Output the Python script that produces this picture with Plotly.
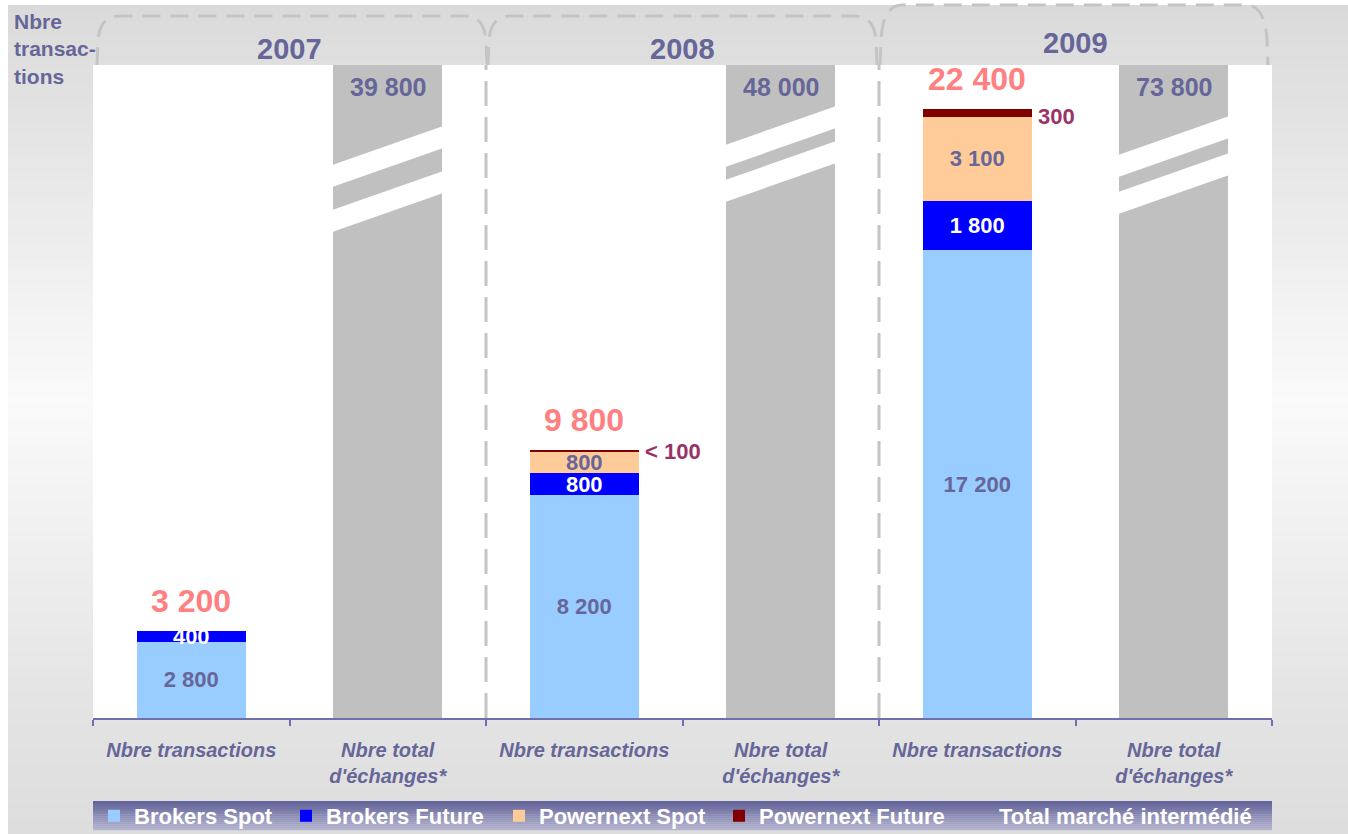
import plotly.graph_objects as go

# ---------------- data ----------------
categories = ["2007 trans", "2007 total", "2008 trans", "2008 total", "2009 trans", "2009 total"]
tick_labels = ["Nbre transactions", "Nbre total<br>d'échanges*"] * 3
years = ["2007", "2008", "2009"]
trans_cats = categories[0::2]
total_cats = categories[1::2]

brokers_spot = [2800, 8200, 17200]
brokers_future = [400, 800, 1800]
powernext_spot = [0, 800, 3100]
powernext_future = [0, 60, 300]
powernext_future_labels = ["", "< 100", "300"]
totals = [3200, 9800, 22400]
total_market = [39800, 48000, 73800]

series_names = ["Brokers Spot", "Brokers Future", "Powernext Spot", "Powernext Future",
                "Total marché intermédié"]

# ---------------- style ----------------
FONT = "Arial, Liberation Sans, sans-serif"
C_TXT = "#666699"
C_SPOT = "#99CCFF"
C_FUT = "#0000FF"
C_PSPOT = "#FFCC99"
C_PFUT = "#800000"
C_GRAY = "#C0C0C0"
C_TOTAL = "#FF8080"
C_SIDE = "#993366"
C_DASH = "#C4C4C4"
C_AXIS = "#6F6FAE"

W, H = 1348, 834
L, R, T, B = 93, 76, 65, 116
PW, PH = W - L - R, H - T - B
YMAX = 24000
BAR_W = 0.555


def px_x(px):
    return (px - L) / PW


def px_y(py):
    return (H - B - py) / PH


def P(px, py):
    return f"{px_x(px):.5f},{px_y(py):.5f}"


def fmt(v):
    return f"{v:,}".replace(",", " ") if v else ""


def lerp(c1, c2, t):
    return tuple(round(a + (b - a) * t) for a, b in zip(c1, c2))


fig = go.Figure()

bold = dict(family=FONT, size=22, weight="bold")

fig.add_trace(go.Bar(
    x=trans_cats, y=brokers_spot, name=series_names[0], marker=dict(color=C_SPOT, line=dict(width=0)),
    text=[fmt(v) for v in brokers_spot], textposition="inside", insidetextanchor="middle",
    constraintext="none", textfont=dict(bold, color=C_TXT), legend="legend"))
fig.add_trace(go.Bar(
    x=trans_cats, y=brokers_future, name=series_names[1], marker=dict(color=C_FUT, line=dict(width=0)),
    text=[fmt(v) for v in brokers_future], textposition="inside", insidetextanchor="middle",
    constraintext="none", textfont=dict(bold, color="white"), legend="legend2"))
fig.add_trace(go.Bar(
    x=trans_cats, y=powernext_spot, name=series_names[2], marker=dict(color=C_PSPOT, line=dict(width=0)),
    text=[fmt(v) for v in powernext_spot], textposition="inside", insidetextanchor="middle",
    constraintext="none", textfont=dict(bold, color=C_TXT), legend="legend3"))
fig.add_trace(go.Bar(
    x=trans_cats, y=powernext_future, name=series_names[3], marker=dict(color=C_PFUT, line=dict(width=0)),
    textposition="none", legend="legend4"))
fig.add_trace(go.Bar(
    x=total_cats, y=total_market, name=series_names[4], marker=dict(color=C_GRAY, line=dict(width=0)),
    textposition="none", showlegend=False, legendgroup="total"))
# legend entry for the total market (no visible swatch, as in the original)
fig.add_trace(go.Bar(
    x=[total_cats[0]], y=[None], name=series_names[4],
    marker=dict(color="rgba(0,0,0,0)", line=dict(width=0, color="rgba(0,0,0,0)")),
    legend="legend5", legendgroup="total", hoverinfo="skip"))

# ---------------- shapes ----------------
shapes = []
# background gradient
stops = [(5, (218, 218, 218)), (400, (250, 250, 250)), (700, (228, 228, 228)), (834, (221, 221, 221))]
y = 5
step = 8
while y < 834:
    yc = y + step / 2
    for (ya, ca), (yb, cb) in zip(stops[:-1], stops[1:]):
        if ya <= yc <= yb:
            c = lerp(ca, cb, (yc - ya) / (yb - ya))
            break
    shapes.append(dict(type="rect", xref="paper", yref="paper", layer="below",
                       x0=px_x(8), x1=px_x(W), y0=px_y(min(y + step + 0.5, 834)), y1=px_y(y),
                       fillcolor=f"rgb{c}", line=dict(width=0)))
    y += step
# white plot area
shapes.append(dict(type="rect", xref="paper", yref="paper", layer="below",
                   x0=0, x1=1, y0=0, y1=1, fillcolor="white", line=dict(width=0)))
# legend band gradient
lg_top, lg_bot = 801, 830
n = 15
for i in range(n):
    c = lerp((100, 100, 154), (178, 178, 207), i / (n - 1))
    y0 = lg_top + (lg_bot - lg_top) * i / n
    y1 = lg_top + (lg_bot - lg_top) * (i + 1) / n
    shapes.append(dict(type="rect", xref="paper", yref="paper", layer="below",
                       x0=px_x(93), x1=px_x(1272), y0=px_y(y1 + 0.3), y1=px_y(y0),
                       fillcolor=f"rgb{c}", line=dict(width=0)))
# dashed separators between years
for k in (2, 4):
    shapes.append(dict(type="line", xref="paper", yref="paper", layer="below",
                       x0=k / 6, x1=k / 6, y0=0, y1=1,
                       line=dict(color=C_DASH, width=3, dash="25px,11px")))
# year brackets
brackets = [(97, 487, 16), (488, 877, 16), (880, 1268, 5)]
for x0, x1, top in brackets:
    path = (f"M {P(x0, 65)} L {P(x0 + 1, 40)} Q {P(x0 + 3, top)} {P(x0 + 22, top)} "
            f"L {P(x1 - 22, top)} Q {P(x1 - 3, top)} {P(x1 - 1, 40)} L {P(x1, 65)}")
    shapes.append(dict(type="path", xref="paper", yref="paper", path=path,
                       line=dict(color=C_DASH, width=3, dash="18px,10px")))
# axis-break stripes on the total bars
break_starts = [(165, 210), (145, 180), (155, 192)]
thick, rise = 22, 39
for i, starts in enumerate(break_starts):
    idx = 2 * i + 1
    xc = (idx + 0.5) / 6
    xl = xc - BAR_W / 12 - 1 / PW
    xr = xc + BAR_W / 12 + 1 / PW
    for s in starts:
        path = (f"M {xl:.5f},{px_y(s):.5f} L {xr:.5f},{px_y(s - rise):.5f} "
                f"L {xr:.5f},{px_y(s - rise + thick):.5f} L {xl:.5f},{px_y(s + thick):.5f} Z")
        shapes.append(dict(type="path", xref="paper", yref="paper", path=path,
                           fillcolor="white", line=dict(width=0)))

# ---------------- annotations ----------------
ann = []
# y-axis title
ann.append(dict(xref="paper", yref="paper", x=px_x(12), y=px_y(8), xanchor="left", yanchor="top",
                text="<b>Nbre<br>transac-<br>tions</b>", showarrow=False, align="left",
                font=dict(family=FONT, size=21, color=C_TXT)))
# years
year_py = [49, 49, 43]
for i, yr in enumerate(years):
    ann.append(dict(xref="paper", yref="paper", x=(2 * i + 1) / 6, y=px_y(year_py[i]),
                    xanchor="center", yanchor="middle", text=f"<b>{yr}</b>", showarrow=False,
                    font=dict(family=FONT, size=29, color=C_TXT)))
# totals of transactions
for i, c in enumerate(trans_cats):
    top = brokers_spot[i] + brokers_future[i] + powernext_spot[i] + powernext_future[i]
    ann.append(dict(x=c, y=top, xref="x", yref="y", yanchor="middle", yshift=30,
                    text=f"<b>{fmt(totals[i])}</b>", showarrow=False,
                    font=dict(family=FONT, size=32, color=C_TOTAL)))
    if powernext_future_labels[i]:
        base = brokers_spot[i] + brokers_future[i] + powernext_spot[i]
        ann.append(dict(x=c, y=base, xref="x", yref="y", xanchor="left", yanchor="middle",
                        xshift=BAR_W * PW / 12 + 4, text=f"<b>{powernext_future_labels[i]}</b>",
                        showarrow=False, font=dict(family=FONT, size=22, color=C_SIDE)))
# total market labels
for i, c in enumerate(total_cats):
    ann.append(dict(x=c, y=px_y(87), xref="x", yref="paper", yanchor="middle",
                    text=f"<b>{fmt(total_market[i])}</b>", showarrow=False,
                    font=dict(family=FONT, size=25, color=C_TXT)))

# ---------------- legends ----------------
legend_text_px = [132, 324, 537, 757, 997]
ly = px_y(816)
leg_common = dict(orientation="h", xanchor="left", yanchor="middle", y=ly,
                  bgcolor="rgba(0,0,0,0)", borderwidth=0,
                  font=dict(family=FONT, size=22, color="white", weight="bold"))
legends = {}
for k, tx in enumerate(legend_text_px):
    key = "legend" if k == 0 else f"legend{k + 1}"
    legends[key] = dict(leg_common, x=px_x(tx - 38))

fig.update_layout(
    width=W, height=H,
    margin=dict(l=L, r=R, t=T, b=B, autoexpand=False),
    barmode="stack", bargap=1 - BAR_W,
    paper_bgcolor="white", plot_bgcolor="rgba(0,0,0,0)",
    showlegend=True,
    xaxis=dict(type="category", categoryorder="array", categoryarray=categories,
               tickmode="array", tickvals=categories, ticktext=tick_labels,
               tickson="boundaries", ticks="outside", ticklen=6, tickwidth=1.5, tickcolor=C_AXIS,
               showline=True, linecolor=C_AXIS, linewidth=1.5, showgrid=False, zeroline=False,
               range=[-0.5, 5.5], ticklabelstandoff=13,
               tickfont=dict(family=FONT, size=20, color=C_TXT, weight="bold", style="italic")),
    yaxis=dict(range=[0, YMAX], visible=False, showgrid=False, zeroline=False),
    shapes=shapes,
    annotations=ann,
    **legends,
)

fig.write_html("out.html", config={"displayModeBar": False},
               post_script="document.body.style.margin='0px';document.body.style.overflow='hidden';")
